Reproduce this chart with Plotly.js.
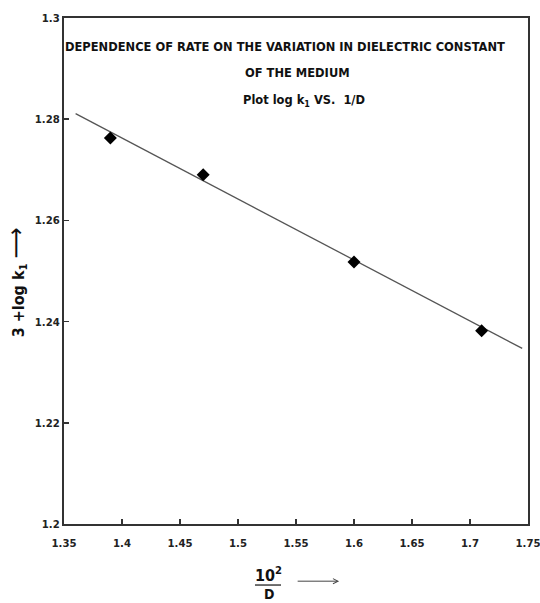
<!DOCTYPE html>
<html>
<head>
<meta charset="utf-8">
<script src="https://cdn.plot.ly/plotly-3.0.1.min.js"></script>
<style>html,body{margin:0;padding:0;background:#fff;}#chart{width:540px;height:603px;}</style>
</head>
<body>
<div id="chart"></div>
<script>
// Data
const invD = [1.39, 1.47, 1.60, 1.71];           // 10^2 / D
const logK = [1.2763, 1.2690, 1.2518, 1.2382];   // 3 + log k1
const trendX = [1.36, 1.745];
const trendY = [1.2811, 1.2347];
const xTicks = [1.35, 1.4, 1.45, 1.5, 1.55, 1.6, 1.65, 1.7, 1.75];
const xTickText = ["1.35", "1.4", "1.45", "1.5", "1.55", "1.6", "1.65", "1.7", "1.75"];
const yTicks = [1.2, 1.22, 1.24, 1.26, 1.28, 1.3];
const yTickText = ["1.2", "1.22", "1.24", "1.26", "1.28", "1.3"];
const titleLines = [
  "DEPENDENCE OF RATE ON THE VARIATION IN DIELECTRIC CONSTANT",
  "OF THE MEDIUM",
  "Plot log k<sub>1</sub> VS.  1/D"
];
const yTitle = "3 +log k<sub>1</sub> <span style='font-size:24px;font-weight:normal'>⟶</span>";
const xTitleNum = "10<sup>2</sup>";
const xTitleDen = "D";

// pick a narrow installed font, Calibri-like
const ctx = document.createElement("canvas").getContext("2d");
function has(f) {
  const s = "mmmmmmmmmmlliWW DEPENDENCE 1.35";
  const out = [];
  for (const base of ["monospace", "serif"]) {
    ctx.font = "bold 20px " + base; const a = ctx.measureText(s).width;
    ctx.font = 'bold 20px "' + f + '", ' + base; const b = ctx.measureText(s).width;
    out.push(a !== b);
  }
  return out[0] || out[1];
}
const cands = ["Liberation Sans Narrow", "DejaVu Sans Condensed", "Roboto Condensed", "Open Sans Condensed", "Lato", "Roboto", "Liberation Sans"];
let FAM = "Open Sans";
for (const c of cands) { if (has(c)) { FAM = c; break; } }
const FONT = '"' + FAM + '", sans-serif';
function widthAt(txt, size) { ctx.font = "bold " + size + "px " + FONT; return ctx.measureText(txt).width; }
const titleSize = Math.min(17, 15 * 440 / widthAt(titleLines[0], 15));
const tickSize = Math.min(15, 14 * 25 / widthAt("1.35", 14));

const traces = [
  {
    x: trendX, y: trendY, mode: "lines", type: "scatter",
    line: {color: "#555", width: 1.3}, hoverinfo: "skip", showlegend: false
  },
  {
    x: invD, y: logK, mode: "markers", type: "scatter",
    marker: {symbol: "diamond", size: 10, color: "#000"}, showlegend: false
  }
];

const axisCommon = {
  showgrid: false, zeroline: false, showline: true, mirror: true,
  linecolor: "#333", linewidth: 2, ticks: "inside", ticklen: 5,
  tickcolor: "#333", tickwidth: 1.5,
  tickfont: {family: FONT, size: tickSize, color: "#222", weight: "bold"}
};

const tf = {family: FONT, size: titleSize, color: "#111", weight: "bold"};
const af = {family: FONT, size: 16, color: "#111", weight: "bold"};
const xf = {family: FONT, size: 14, color: "#111", weight: "bold"};

const layout = {
  width: 540, height: 603,
  margin: {l: 64, r: 12, t: 18, b: 79},
  paper_bgcolor: "#fff", plot_bgcolor: "#fff",
  showlegend: false,
  xaxis: Object.assign({}, axisCommon, {
    range: [1.35, 1.75], tickvals: xTicks, ticktext: xTickText,
    ticklabelstandoff: 7, ticklabeloverflow: "allow"
  }),
  yaxis: Object.assign({}, axisCommon, {
    range: [1.2, 1.3], tickvals: yTicks, ticktext: yTickText
  }),
  annotations: [
    {text: titleLines[0], xref: "paper", yref: "paper", x: 0.477, y: 0.943, xanchor: "center", yanchor: "middle",
     showarrow: false, font: tf},
    {text: titleLines[1], xref: "paper", yref: "paper", x: 0.504, y: 0.893, xanchor: "center", yanchor: "middle",
     showarrow: false, font: tf},
    {text: titleLines[2], xref: "paper", yref: "paper", x: 0.517, y: 0.836, xanchor: "center", yanchor: "middle",
     showarrow: false, font: tf},
    {text: yTitle, xref: "paper", yref: "paper", x: -0.103, y: 0.478,
     textangle: -90, showarrow: false, xanchor: "center", yanchor: "middle", font: af},
    {text: xTitleNum, xref: "paper", yref: "paper", x: 0.44, y: -0.099, xanchor: "center", yanchor: "middle",
     showarrow: false, font: af},
    {text: xTitleDen, xref: "paper", yref: "paper", x: 0.442, y: -0.138, xanchor: "center", yanchor: "middle",
     showarrow: false, font: xf},
    {text: "", xref: "paper", yref: "paper", x: 0.593, y: -0.113, showarrow: true,
     ax: -43, ay: 0, arrowhead: 5, arrowsize: 1, arrowwidth: 1, arrowcolor: "#444"}
  ],
  shapes: [
    {type: "line", xref: "paper", yref: "paper", x0: 0.4116, x1: 0.4677, y0: -0.1206, y1: -0.1206,
     line: {color: "#111", width: 1.2}}
  ]
};

Plotly.newPlot("chart", traces, layout, {displayModeBar: false, staticPlot: true});
</script>
</body>
</html>
